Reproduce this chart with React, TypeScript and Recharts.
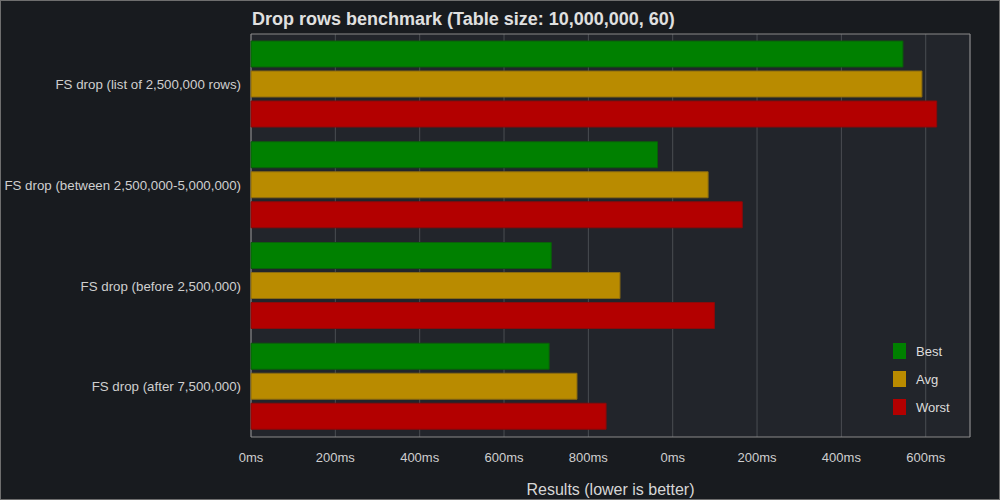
import { BarChart, Bar, XAxis, YAxis, CartesianGrid, Legend, ReferenceArea, Label } from 'recharts';

const categories = [
  'FS drop (list of 2,500,000 rows)',
  'FS drop (between 2,500,000-5,000,000)',
  'FS drop (before 2,500,000)',
  'FS drop (after 7,500,000)',
];
const bestMs = [1546, 964, 712, 707];
const avgMs = [1591, 1084, 875, 773];
const worstMs = [1626, 1165, 1099, 842];
const xTicks = [0, 200, 400, 600, 800, 1000, 1200, 1400, 1600];

const series = [
  { key: 'best', name: 'Best', color: '#008000', edge: '#0a5f0a' },
  { key: 'avg', name: 'Avg', color: '#b98b00', edge: '#8a6a10' },
  { key: 'worst', name: 'Worst', color: '#b30000', edge: '#8a0a0a' },
];

const data = categories.map((name, i) => ({
  name,
  best: bestMs[i],
  avg: avgMs[i],
  worst: worstMs[i],
}));

const font = '"Liberation Sans", Arial, sans-serif';

function LegendBox({ payload }: any) {
  const items = series.map((s) => (payload || []).find((p: any) => p.value === s.name) || { value: s.name, color: s.color });
  return (
    <div style={{ fontFamily: font, fontSize: 13, color: '#dcdcdc' }}>
      {items.map((p: any) => (
        <div key={p.value} style={{ display: 'flex', alignItems: 'center', height: 28 }}>
          <span style={{ display: 'inline-block', width: 13, height: 16, background: p.color, marginRight: 10 }} />
          <span>{p.value}</span>
        </div>
      ))}
    </div>
  );
}

function CategoryTick({ x, y, payload }: any) {
  return (
    <text x={x} y={y} dy="0.355em" textAnchor="end" fill="#cfcfcf" fontSize={13.3} fontFamily={font}>
      {payload.value}
    </text>
  );
}

export default function App() {
  return (
    <div
      style={{
        position: 'absolute',
        left: 0,
        top: 0,
        width: 1000,
        height: 500,
        boxSizing: 'border-box',
        border: '1px solid #6e6e6e',
        background: '#181b1f',
        fontFamily: font,
      }}
    >
      <div
        style={{
          position: 'absolute',
          left: 251,
          top: 8,
          fontSize: 18,
          fontWeight: 'bold',
          color: '#e0e0e0',
          whiteSpace: 'nowrap',
        }}
      >
        Drop rows benchmark (Table size: 10,000,000, 60)
      </div>
      <BarChart
        width={998}
        height={498}
        data={data}
        layout="vertical"
        margin={{ top: 33, right: 29, bottom: 0, left: 0 }}
        barCategoryGap={7}
        barGap={4}
      >
        <CartesianGrid horizontal={false} stroke="#4a4d52" fill="#22252b" />
        <XAxis
          type="number"
          domain={[0, 1705]}
          ticks={xTicks}
          tickFormatter={(v: number) => `${v % 1000}ms`}
          axisLine={false}
          tickLine={false}
          tickSize={0}
          tickMargin={16}
          height={62}
          tick={{ fill: '#cfcfcf', fontSize: 13, fontFamily: font }}
        >
          <Label
            value="Results (lower is better)"
            position="insideBottom"
            offset={4}
            style={{ fill: '#d6d6d6', fontSize: 16, fontFamily: font }}
          />
        </XAxis>
        <YAxis
          type="category"
          dataKey="name"
          width={250}
          axisLine={false}
          tickLine={false}
          tickSize={0}
          tickMargin={10}
          tick={<CategoryTick />}
        />
        {series.map((s) => (
          <Bar
            key={s.key}
            dataKey={s.key}
            name={s.name}
            fill={s.color}
            stroke={s.edge}
            strokeWidth={1}
            isAnimationActive={false}
          />
        ))}
        <ReferenceArea
          x1={0}
          x2={1705}
          fill="none"
          fillOpacity={0}
          stroke="#8a8a8a"
          strokeWidth={1}
          ifOverflow="visible"
        />
        <Legend
          layout="vertical"
          align="center"
          verticalAlign="middle"
          content={<LegendBox />}
          wrapperStyle={{ left: 892, top: 336, width: 90, height: 90 }}
        />
      </BarChart>
    </div>
  );
}
